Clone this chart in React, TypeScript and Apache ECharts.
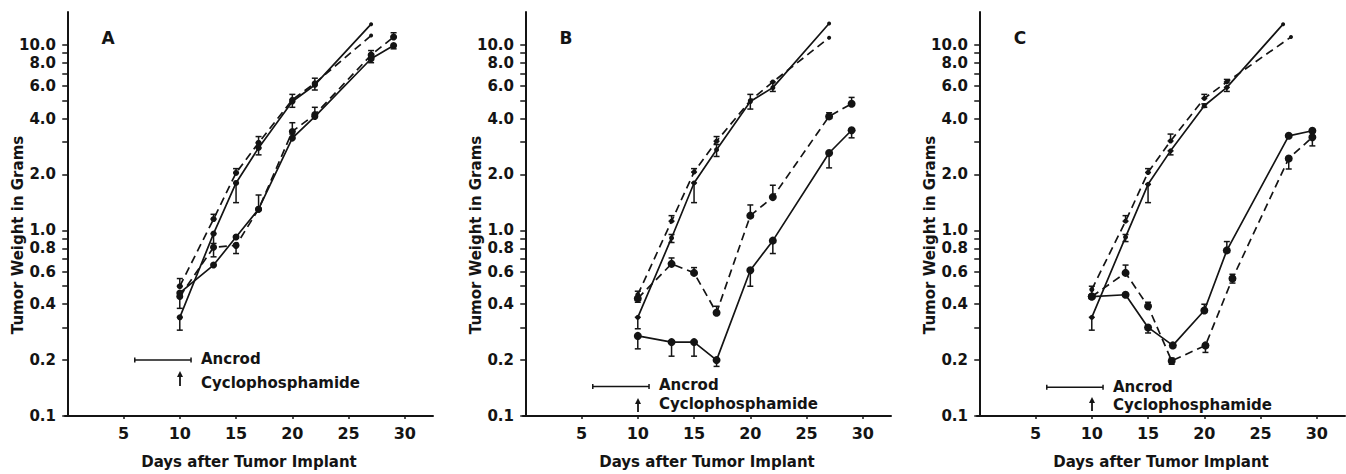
import React, { useEffect, useRef } from 'react';
import * as echarts from 'echarts';

// ---------- tick / label values ----------
const yTickValues = [0.1, 0.2, 0.3, 0.4, 0.5, 0.6, 0.7, 0.8, 0.9, 1, 2, 3, 4, 5, 6, 7, 8, 9, 10];
const yLabelValues = [0.1, 0.2, 0.4, 0.6, 0.8, 1, 2, 4, 6, 8, 10];
const xLabelValues = [5, 10, 15, 20, 25, 30];
const panelLetters = ['A', 'B', 'C'];
const ancrodDays = [6, 11];
const cyclophosphamideDay = 10;
const ancrodLevel = [0.2, 0.144, 0.143];

// ---------- Panel A ----------
const aDaysUpper = [10, 13, 15, 17, 20, 22, 27];
const aUpperSolid = [0.34, 0.96, 1.8, 2.78, 4.94, 6.07, 12.9];
const aUpperDashed = [0.5, 1.15, 2.04, 2.96, 5.05, 6.2, 11.2];
const aDaysLower = [10, 13, 15, 17, 20, 22, 27, 29];
const aLowerSolid = [0.46, 0.65, 0.92, 1.3, 3.14, 4.1, 8.4, 9.9];
const aLowerDashed = [0.44, 0.81, 0.83, 1.3, 3.41, 4.2, 8.8, 11.0];
const aErrUpperSolid = [[10, 0.29, 0.34], [13, 0.85, 0.96], [15, 1.41, 1.8], [17, 2.55, 2.78], [20, 4.6, 4.94], [22, 5.7, 6.07]];
const aErrUpperDashed = [[10, 0.5, 0.55], [13, 1.15, 1.22], [15, 2.04, 2.15], [17, 2.96, 3.2], [20, 5.05, 5.4], [22, 6.2, 6.6]];
const aErrLowerSolid = [[17, 1.3, 1.55], [20, 3.14, 3.3], [27, 8.0, 8.4], [29, 9.5, 9.9]];
const aErrLowerDashed = [[10, 0.38, 0.44], [13, 0.72, 0.81], [15, 0.75, 0.83], [20, 3.41, 3.8], [22, 4.2, 4.6], [27, 8.8, 9.3], [29, 11.0, 11.6]];

// ---------- Panel B ----------
const bDaysUpper = [10, 13, 15, 17, 20, 22, 27];
const bUpperSolid = [0.34, 0.91, 1.8, 2.72, 4.94, 5.87, 13.0];
const bUpperDashed = [0.45, 1.12, 2.06, 3.02, 5.0, 6.3, 10.9];
const bDaysLower = [10, 13, 15, 17, 20, 22, 27, 29];
const bLowerSolid = [0.27, 0.25, 0.25, 0.2, 0.61, 0.88, 2.61, 3.46];
const bLowerDashed = [0.43, 0.66, 0.59, 0.36, 1.2, 1.51, 4.11, 4.81];
const bErrUpperSolid = [[10, 0.295, 0.34], [13, 0.86, 0.95], [15, 1.41, 1.8], [17, 2.5, 2.9], [20, 4.5, 5.4], [22, 5.6, 6.3]];
const bErrUpperDashed = [[10, 0.41, 0.47], [13, 1.12, 1.2], [15, 2.06, 2.15], [17, 3.02, 3.2]];
const bErrLowerSolid = [[10, 0.23, 0.27], [13, 0.21, 0.25], [15, 0.21, 0.25], [17, 0.185, 0.2], [20, 0.5, 0.61], [22, 0.75, 0.88], [27, 2.17, 2.61], [29, 3.15, 3.46]];
const bErrLowerDashed = [[13, 0.66, 0.71], [15, 0.59, 0.63], [17, 0.36, 0.39], [20, 1.2, 1.37], [22, 1.51, 1.75], [27, 4.11, 4.3], [29, 4.81, 5.2]];

// ---------- Panel C ----------
const cDaysUpperSolid = [10, 13, 15, 17, 20, 22, 27];
const cUpperSolid = [0.34, 0.92, 1.77, 2.68, 4.69, 5.89, 12.9];
const cDaysUpperDashed = [10, 13, 15, 17, 20, 22, 27.7];
const cUpperDashed = [0.48, 1.12, 2.05, 3.03, 5.14, 6.3, 11.0];
const cDaysLowerSolid = [10, 13, 15, 17.2, 20, 22, 27.5, 29.6];
const cLowerSolid = [0.44, 0.45, 0.3, 0.24, 0.37, 0.78, 3.23, 3.44];
const cDaysLowerDashed = [10, 13, 15, 17.1, 20.1, 22.5, 27.5, 29.6];
const cLowerDashed = [0.44, 0.59, 0.39, 0.198, 0.24, 0.55, 2.44, 3.17];
const cErrUpperSolid = [[10, 0.29, 0.34], [13, 0.87, 0.95], [15, 1.41, 1.77], [17, 2.55, 2.68], [20, 4.6, 4.8], [22, 5.6, 5.89]];
const cErrUpperDashed = [[10, 0.44, 0.5], [13, 1.12, 1.2], [15, 2.05, 2.15], [17, 3.03, 3.3], [20, 5.14, 5.4], [22, 6.3, 6.5]];
const cErrLowerSolid = [[15, 0.28, 0.3], [20, 0.37, 0.4], [22, 0.78, 0.87], [29.6, 2.85, 3.44]];
const cErrLowerDashed = [[13, 0.59, 0.65], [15, 0.39, 0.41], [17.1, 0.19, 0.205], [20.1, 0.22, 0.24], [22.5, 0.52, 0.58], [27.5, 2.14, 2.44]];

const FONT = 'DejaVu Sans';
const INK = '#141414';

type Curve = { days: number[]; vals: number[]; dashed: boolean; size: number; err: number[][] };

const panels: Curve[][] = [
  [
    { days: aDaysUpper, vals: aUpperSolid, dashed: false, size: 6, err: aErrUpperSolid },
    { days: aDaysUpper, vals: aUpperDashed, dashed: true, size: 6, err: aErrUpperDashed },
    { days: aDaysLower, vals: aLowerSolid, dashed: false, size: 7, err: aErrLowerSolid },
    { days: aDaysLower, vals: aLowerDashed, dashed: true, size: 7, err: aErrLowerDashed },
  ],
  [
    { days: bDaysUpper, vals: bUpperSolid, dashed: false, size: 5, err: bErrUpperSolid },
    { days: bDaysUpper, vals: bUpperDashed, dashed: true, size: 5, err: bErrUpperDashed },
    { days: bDaysLower, vals: bLowerSolid, dashed: false, size: 8, err: bErrLowerSolid },
    { days: bDaysLower, vals: bLowerDashed, dashed: true, size: 8, err: bErrLowerDashed },
  ],
  [
    { days: cDaysUpperSolid, vals: cUpperSolid, dashed: false, size: 5, err: cErrUpperSolid },
    { days: cDaysUpperDashed, vals: cUpperDashed, dashed: true, size: 5, err: cErrUpperDashed },
    { days: cDaysLowerSolid, vals: cLowerSolid, dashed: false, size: 8, err: cErrLowerSolid },
    { days: cDaysLowerDashed, vals: cLowerDashed, dashed: true, size: 8, err: cErrLowerDashed },
  ],
];

const gridLefts = [65, 523, 977];
const GRID_W = 368;
const GRID_TOP = 12;
const GRID_H = 404;

function errorRender(params: any, api: any) {
  const x = api.value(0);
  const lo = api.coord([x, api.value(1)]);
  const hi = api.coord([x, api.value(2)]);
  const cap = 3;
  const style = { stroke: INK, lineWidth: 1.5 };
  return {
    type: 'group',
    children: [
      { type: 'line', shape: { x1: lo[0], y1: lo[1], x2: hi[0], y2: hi[1] }, style },
      { type: 'line', shape: { x1: lo[0] - cap, y1: lo[1], x2: lo[0] + cap, y2: lo[1] }, style },
      { type: 'line', shape: { x1: hi[0] - cap, y1: hi[1], x2: hi[0] + cap, y2: hi[1] }, style },
    ],
  };
}

function buildOption() {
  const grid: any[] = [];
  const xAxis: any[] = [];
  const yAxis: any[] = [];
  const series: any[] = [];
  const graphic: any[] = [];

  panels.forEach((curves, p) => {
    const left = gridLefts[p];
    grid.push({ left, top: GRID_TOP, width: GRID_W, height: GRID_H, containLabel: false });
    xAxis.push({
      gridIndex: p,
      type: 'value',
      min: -0.2,
      max: 32.5,
      splitLine: { show: false },
      axisLine: { lineStyle: { color: INK, width: 2 } },
      axisTick: { show: true, customValues: xLabelValues, length: 3, lineStyle: { color: INK, width: 1.5 } },
      axisLabel: {
        customValues: xLabelValues,
        margin: 9,
        color: INK,
        fontFamily: FONT,
        fontWeight: 'bold',
        fontSize: 16,
      },
      name: 'Days after Tumor Implant',
      nameLocation: 'middle',
      nameGap: 38,
      nameTextStyle: { color: INK, fontFamily: FONT, fontWeight: 'bold', fontSize: 15 },
    });
    yAxis.push({
      gridIndex: p,
      type: 'log',
      logBase: 10,
      min: 0.1,
      max: 15,
      splitLine: { show: false },
      minorTick: { show: false },
      axisLine: { show: true, lineStyle: { color: INK, width: 2 } },
      axisTick: { show: true, customValues: yTickValues, length: 5, lineStyle: { color: INK, width: 1.5 } },
      axisLabel: {
        customValues: yLabelValues,
        formatter: (v: number) => Number(v).toFixed(1),
        margin: 9,
        color: INK,
        fontFamily: FONT,
        fontWeight: 'bold',
        fontSize: 15,
      },
    });

    curves.forEach((c) => {
      series.push({
        type: 'line',
        xAxisIndex: p,
        yAxisIndex: p,
        data: c.days.map((d, i) => [d, c.vals[i]]),
        symbol: 'circle',
        symbolSize: (val: number[]) => (val[0] >= 27 && c.size <= 6 && val[1] > 10.5 ? 4 : c.size),
        itemStyle: { color: INK },
        lineStyle: { color: INK, width: 1.7, type: c.dashed ? [8, 5] : 'solid' },
        z: 3,
      });
      series.push({
        type: 'custom',
        xAxisIndex: p,
        yAxisIndex: p,
        data: c.err,
        renderItem: errorRender,
        z: 4,
      });
    });

    // Ancrod bar (treatment window)
    series.push({
      type: 'line',
      xAxisIndex: p,
      yAxisIndex: p,
      data: ancrodDays.map((d) => [d, ancrodLevel[p]]),
      symbol: 'rect',
      symbolSize: [1.5, 5],
      itemStyle: { color: INK },
      lineStyle: { color: INK, width: 1.5 },
      z: 3,
    });

    // panel letter
    graphic.push({
      type: 'text',
      x: left + 43,
      y: 38,
      style: { text: panelLetters[p], fill: INK, font: `bold 17px "${FONT}"`, textAlign: 'center', textVerticalAlign: 'middle' },
    });
    // y-axis name
    graphic.push({
      type: 'text',
      x: left - 47,
      y: 235,
      rotation: Math.PI / 2,
      style: { text: 'Tumor Weight in Grams', fill: INK, font: `bold 15px "${FONT}"`, textAlign: 'center', textVerticalAlign: 'middle' },
    });
  });

  return { animation: false, backgroundColor: '#fff', grid, xAxis, yAxis, series, graphic };
}

// legend annotation pixel positions per panel (text & arrow)
const legendPos = [
  { textX: 201, y1: 359, y2: 383, arrowX: 180, arrowTop: 371, arrowBot: 386 },
  { textX: 659, y1: 385, y2: 404, arrowX: 638, arrowTop: 398, arrowBot: 412 },
  { textX: 1113, y1: 387, y2: 405, arrowX: 1092, arrowTop: 397, arrowBot: 411 },
];

export default function App() {
  const ref = useRef<HTMLDivElement>(null);
  useEffect(() => {
    if (!ref.current) return;
    const chart = echarts.init(ref.current, null, { renderer: 'svg' });
    const option: any = buildOption();
    legendPos.forEach((lp) => {
      option.graphic.push({
        type: 'text',
        x: lp.textX,
        y: lp.y1,
        style: { text: 'Ancrod', fill: INK, font: `bold 15px "${FONT}"`, textVerticalAlign: 'middle' },
      });
      option.graphic.push({
        type: 'text',
        x: lp.textX,
        y: lp.y2,
        style: { text: 'Cyclophosphamide', fill: INK, font: `bold 15px "${FONT}"`, textVerticalAlign: 'middle' },
      });
      option.graphic.push({
        type: 'line',
        shape: { x1: lp.arrowX, y1: lp.arrowBot, x2: lp.arrowX, y2: lp.arrowTop + 4 },
        style: { stroke: INK, lineWidth: 1.8 },
      });
      option.graphic.push({
        type: 'polygon',
        shape: { points: [[lp.arrowX - 3, lp.arrowTop + 6], [lp.arrowX + 3, lp.arrowTop + 6], [lp.arrowX, lp.arrowTop]] },
        style: { fill: INK },
      });
    });
    chart.setOption(option);
    return () => chart.dispose();
  }, []);
  return (
    <div
      ref={ref}
      style={{ position: 'fixed', left: 0, top: 0, width: 1346, height: 474, background: '#fff' }}
    />
  );
}
